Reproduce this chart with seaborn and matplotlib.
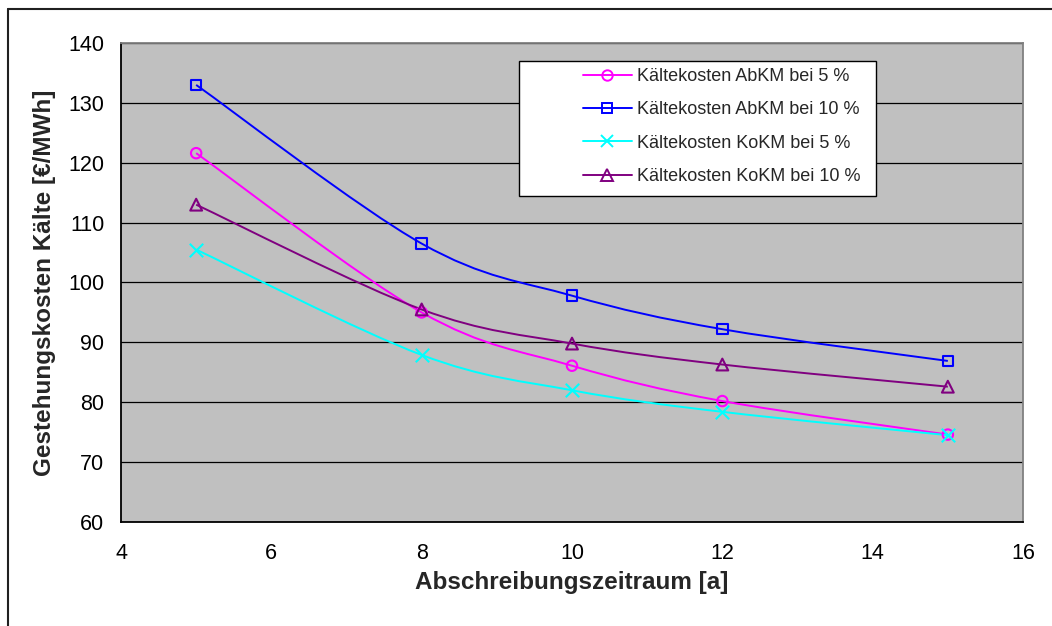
import numpy as np
import pandas as pd
import matplotlib
matplotlib.use("Agg")
import matplotlib.pyplot as plt
from matplotlib.path import Path
from matplotlib.patches import PathPatch, Rectangle
from matplotlib.lines import Line2D
import seaborn as sns

# Depreciation period in years
years = [5, 8, 10, 12, 15]

# Cooling cost in EUR/MWh
abkm_5 = [121.6, 95.0, 86.1, 80.2, 74.6]
abkm_10 = [133.0, 106.5, 97.8, 92.2, 86.9]
kokm_5 = [105.5, 87.9, 82.0, 78.4, 74.5]
kokm_10 = [113.0, 95.5, 89.8, 86.3, 82.6]

series_names = [
    "Kältekosten AbKM bei 5 %",
    "Kältekosten AbKM bei 10 %",
    "Kältekosten KoKM bei 5 %",
    "Kältekosten KoKM bei 10 %",
]
series_values = [abkm_5, abkm_10, kokm_5, kokm_10]
colors = ["#FF00FF", "#0000FF", "#00FFFF", "#800080"]
markers = ["o", "s", "x", "^"]
marker_sizes = [7.5, 7.5, 8.5, 8.5]

x_ticks = [4, 6, 8, 10, 12, 14, 16]
y_ticks = [60, 70, 80, 90, 100, 110, 120, 130, 140]

sns.set_style("white")
plt.rcParams["font.family"] = ["Liberation Sans", "DejaVu Sans"]

df = pd.DataFrame(
    [(n, x, y) for n, vals in zip(series_names, series_values) for x, y in zip(years, vals)],
    columns=["Reihe", "Jahre", "Kosten"],
)

W, H = 1052, 626
fig = plt.figure(figsize=(W / 100, H / 100), dpi=100)
ax = fig.add_axes([121 / W, 1 - 522 / H, (1023 - 121) / W, (522 - 43) / H])
ax.set_facecolor("#C0C0C0")


def smooth_path(xs, ys, tension=1 / 6):
    """Cubic Bezier path through the points (Catmull-Rom style smoothing)."""
    pts = np.column_stack([xs, ys]).astype(float)
    n = len(pts)
    verts = [pts[0]]
    codes = [Path.MOVETO]
    for i in range(n - 1):
        p0 = pts[i - 1] if i > 0 else pts[i]
        p1 = pts[i]
        p2 = pts[i + 1]
        p3 = pts[i + 2] if i + 2 < n else pts[i + 1]
        c1 = p1 + (p2 - p0) * tension
        c2 = p2 - (p3 - p1) * tension
        verts += [c1, c2, p2]
        codes += [Path.CURVE4] * 3
    return Path(verts, codes)


for name, vals, col in zip(series_names, series_values, colors):
    patch = PathPatch(smooth_path(years, vals), facecolor="none", edgecolor=col,
                      linewidth=1.4, zorder=3)
    ax.add_patch(patch)

for (name, sub), col, mk, ms in zip(df.groupby("Reihe", sort=False), colors, markers, marker_sizes):
    if mk == "x":
        sns.scatterplot(data=sub, x="Jahre", y="Kosten", ax=ax, marker=mk, color=col,
                        s=ms ** 2 * 1.3, linewidth=1.5, zorder=4, legend=False)
    else:
        sns.scatterplot(data=sub, x="Jahre", y="Kosten", ax=ax, marker=mk, facecolor="none",
                        edgecolor=col, s=ms ** 2, linewidth=1.5, zorder=4, legend=False)

ax.set_xlim(4, 16)
ax.set_ylim(60, 140)
ax.set_xticks(x_ticks)
ax.set_yticks(y_ticks)
ax.yaxis.grid(True, color="black", linewidth=0.9)
ax.xaxis.grid(False)
ax.set_axisbelow(True)

for side in ["left", "bottom"]:
    ax.spines[side].set_color("black")
    ax.spines[side].set_linewidth(1.3)
for side in ["top", "right"]:
    ax.spines[side].set_color("#808080")
    ax.spines[side].set_linewidth(1.3)

ax.tick_params(axis="both", which="major", direction="out", length=6, width=1,
               color="black", labelsize=15.5, labelcolor="black")
ax.tick_params(axis="x", pad=9)
ax.tick_params(axis="y", pad=6)

ax.set_xlabel("Abschreibungszeitraum [a]", fontsize=17.5, fontweight="bold", labelpad=5)
ax.set_ylabel("Gestehungskosten Kälte [€/MWh]", fontsize=17.5, fontweight="bold", labelpad=9)

# legend frame: white box with black border
aw, ah = 1023 - 121, 522 - 43
box_l, box_r, box_t, box_b = 519, 876, 61, 196
ax.add_patch(Rectangle(((box_l - 121) / aw, (522 - box_b) / ah),
                       (box_r - box_l) / aw, (box_b - box_t) / ah,
                       transform=ax.transAxes, facecolor="white", edgecolor="black",
                       linewidth=1.0, zorder=6))

handles = []
for name, col, mk, ms in zip(series_names, colors, markers, marker_sizes):
    handles.append(Line2D([0], [0], color=col, linewidth=1.4, marker=mk, markersize=ms,
                          markerfacecolor="none", markeredgecolor=col, markeredgewidth=1.4))
leg = ax.legend(handles, series_names, loc="upper right",
                bbox_to_anchor=((box_r - 8 - 121) / aw, (522 - box_t) / ah),
                fontsize=13, frameon=False, borderpad=0.4,
                labelspacing=0.9, handlelength=2.7, handletextpad=0.3, borderaxespad=0)
leg.set_zorder(7)

# outer chart frame
fig.add_artist(Line2D([7.5 / W, 1], [1 - 8.5 / H, 1 - 8.5 / H], transform=fig.transFigure,
                      color="#202020", linewidth=1.5))
fig.add_artist(Line2D([7.5 / W, 7.5 / W], [0, 1 - 8.5 / H], transform=fig.transFigure,
                      color="#202020", linewidth=1.5))

fig.savefig("out.png", dpi=100)
